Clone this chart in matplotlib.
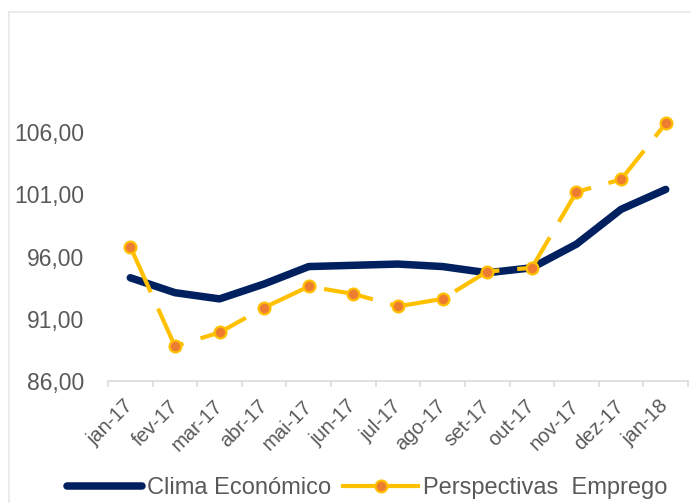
import numpy as np
import matplotlib
matplotlib.use("Agg")
import matplotlib.pyplot as plt
from matplotlib.lines import Line2D

plt.rcParams['font.family'] = ['Liberation Sans', 'DejaVu Sans']

# Data -----------------------------------------------------------------
months = ['jan-17', 'fev-17', 'mar-17', 'abr-17', 'mai-17', 'jun-17', 'jul-17',
          'ago-17', 'set-17', 'out-17', 'nov-17', 'dez-17', 'jan-18']
clima = [94.3, 93.1, 92.6, 93.8, 95.2, 95.3, 95.4,
         95.2, 94.7, 95.1, 97.0, 99.8, 101.4]
emprego = [96.8, 88.8, 89.9, 91.9, 93.6, 93.0, 92.0,
           92.6, 94.8, 95.1, 101.2, 102.2, 106.7]
y_ticks = [86, 91, 96, 101, 106]

# Colours --------------------------------------------------------------
navy = '#002060'
gold = '#FFC000'
orange = '#ED7D31'
txt = '#595959'
axis_grey = '#D9D9D9'

W, H = 691, 503
fig = plt.figure(figsize=(W / 100, H / 100), dpi=100)
ax = fig.add_axes([108 / W, 1 - 381 / H, 580 / W, 311 / H])

x = np.arange(len(months))
ax.plot(x, clima, color=navy, lw=5.4, solid_capstyle='round',
        solid_joinstyle='round', label='Clima Económico', zorder=2)
ax.plot(x, emprego, color=gold, lw=3, linestyle=(0, (12, 4.3)),
        marker='o', markersize=8.5, markerfacecolor=orange,
        markeredgecolor=gold, markeredgewidth=1.6,
        label='Perspectivas  Emprego', zorder=3)

ax.set_xlim(-0.5, len(months) - 0.5)
ax.set_ylim(86, 111)

ax.set_yticks(y_ticks)
ax.set_yticklabels(['{:.2f}'.format(v).replace('.', ',') for v in y_ticks])
ax.tick_params(axis='y', length=0, pad=17, labelsize=16.5, labelcolor=txt)

ax.set_xticks(x)
ax.set_xticklabels(months, rotation=45, ha='right', va='center',
                   rotation_mode='anchor')
ax.set_xticks(np.arange(len(months) + 1) - 0.5, minor=True)
ax.tick_params(axis='x', which='major', length=0, pad=16,
               labelsize=14.5, labelcolor=txt)
ax.tick_params(axis='x', which='minor', length=4, width=1.1, color=axis_grey)

for s in ['left', 'right', 'top']:
    ax.spines[s].set_visible(False)
ax.spines['bottom'].set_color(axis_grey)
ax.spines['bottom'].set_linewidth(1.1)

# chart frame (left and top edges visible in the reference)
fig.add_artist(Line2D([9 / W, 9 / W], [0, 1 - 12 / H], transform=fig.transFigure,
                      color='#E8E8E8', lw=1.2))
fig.add_artist(Line2D([9 / W, 1], [1 - 12 / H, 1 - 12 / H], transform=fig.transFigure,
                      color='#E8E8E8', lw=1.2))

leg = fig.legend(loc='center', bbox_to_anchor=(367 / W, 1 - 488 / H), ncol=2,
                 frameon=False, fontsize=17, handlelength=3.2, handletextpad=0.2,
                 columnspacing=0.5, borderpad=0, borderaxespad=0)
for t in leg.get_texts():
    t.set_color(txt)
leg.legend_handles[1].set_linestyle('-')

fig.savefig('out.png', dpi=100)
